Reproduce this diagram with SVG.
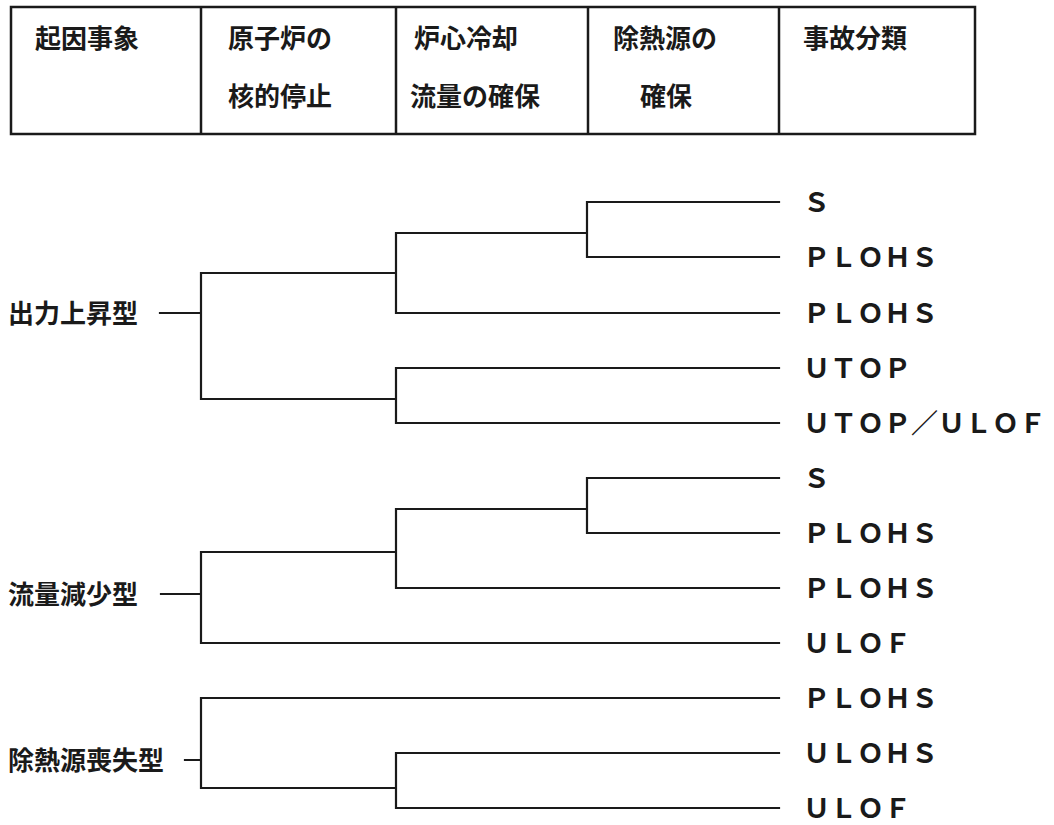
<svg xmlns="http://www.w3.org/2000/svg" width="1054" height="825" viewBox="0 0 1054 825">
<style>
.bg{fill:#ffffff}
.tbl{fill:none;stroke:#1a1a1a;stroke-width:2.5}
.ln{fill:none;stroke:#1a1a1a;stroke-width:2.2;stroke-linecap:square}
.jp{font-family:"Noto Sans CJK JP","Noto Sans CJK SC",sans-serif;font-size:26px;font-weight:700;fill:#1a1a1a}
.lf{font-family:"Noto Sans CJK JP","Noto Sans CJK SC",sans-serif;font-size:27px;font-weight:700;fill:#1a1a1a}
</style>
<rect class="bg" x="0" y="0" width="1054" height="825"/>
<g id="header">
<rect class="tbl" x="11" y="7" width="964" height="127"/>
<line class="tbl" x1="201" y1="7" x2="201" y2="134"/>
<line class="tbl" x1="396" y1="7" x2="396" y2="134"/>
<line class="tbl" x1="588" y1="7" x2="588" y2="134"/>
<line class="tbl" x1="779" y1="7" x2="779" y2="134"/>
<text class="jp" x="35" y="48">起因事象</text>
<text class="jp" x="228" y="48">原子炉の</text>
<text class="jp" x="228" y="106">核的停止</text>
<text class="jp" x="414" y="48">炉心冷却</text>
<text class="jp" x="410" y="106">流量の確保</text>
<text class="jp" x="613" y="48">除熱源の</text>
<text class="jp" x="640" y="106">確保</text>
<text class="jp" x="803" y="48">事故分類</text>
</g>
<g id="connectors">
<path class="ln" d="M160 313H201M201 273V399M201 273H396M201 399H396M396 233V313M396 233H587M587 202V257M587 202H779M587 257H779M396 313H779M396 368V423M396 368H779M396 423H779"/>
<path class="ln" d="M161 594H201M201 552V643M201 552H396M201 643H779M396 509V588M396 509H587M587 478V533M587 478H779M587 533H779M396 588H779"/>
<path class="ln" d="M185 760H201M201 698V788M201 698H779M201 788H396M396 753V808M396 753H779M396 808H779"/>
</g>
<g id="initiators">
<text id="n-power" class="jp" x="8" y="323">出力上昇型</text>
<text id="n-flow" class="jp" x="8" y="604">流量減少型</text>
<text id="n-heat" class="jp" x="8" y="770">除熱源喪失型</text>
</g>
<g id="outcomes">
<text id="o1" class="lf" x="803" y="212">Ｓ</text>
<text id="o2" class="lf" x="803" y="267">ＰＬＯＨＳ</text>
<text id="o3" class="lf" x="803" y="323">ＰＬＯＨＳ</text>
<text id="o4" class="lf" x="803" y="378">ＵＴＯＰ</text>
<text id="o5" class="lf" x="803" y="433">ＵＴＯＰ／ＵＬＯＦ</text>
<text id="o6" class="lf" x="803" y="488">Ｓ</text>
<text id="o7" class="lf" x="803" y="543">ＰＬＯＨＳ</text>
<text id="o8" class="lf" x="803" y="598">ＰＬＯＨＳ</text>
<text id="o9" class="lf" x="803" y="653">ＵＬＯＦ</text>
<text id="o10" class="lf" x="803" y="708">ＰＬＯＨＳ</text>
<text id="o11" class="lf" x="803" y="763">ＵＬＯＨＳ</text>
<text id="o12" class="lf" x="803" y="818">ＵＬＯＦ</text>
</g>
</svg>
